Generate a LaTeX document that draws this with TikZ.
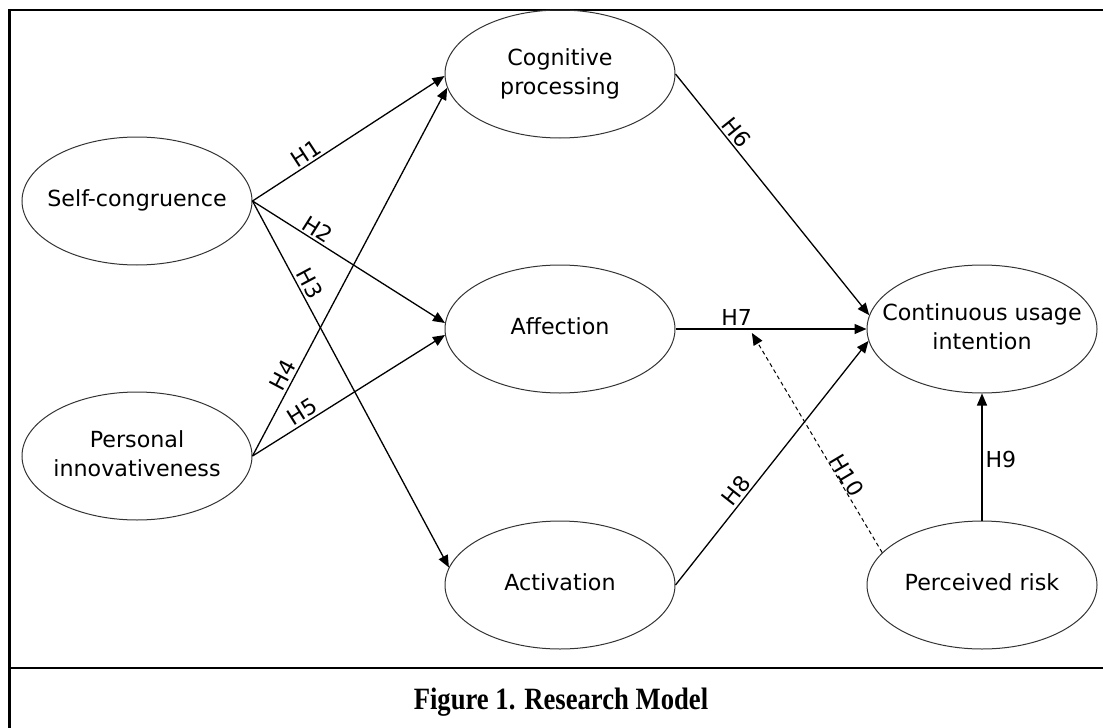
\documentclass[tikz,border=0pt]{standalone}
\usepackage{graphicx}
\usepackage{fontspec}
\setmainfont{DejaVu Sans}
\newfontfamily\capfont{Liberation Serif}
\usetikzlibrary{arrows.meta,shapes.geometric,calc}
\newcommand{\ctext}[1]{\makebox[0pt]{\begin{tabular}{@{}c@{}}#1\end{tabular}}}
\begin{document}
\begin{tikzpicture}[x=0.5pt,y=-0.5pt,
  construct/.style={ellipse, draw=black!80, line width=0.5pt, minimum width=115pt, minimum height=64pt, inner sep=0pt, font=\fontsize{11.1}{14.3}\selectfont},
  link/.style={draw, line width=0.65pt, -{Triangle[length=6pt,width=5pt]}},
  hyp/.style={font=\fontsize{11}{12}\selectfont, inner sep=1.2pt, sloped, above},
  boxline/.style={line width=1.4pt}
]
\useasboundingbox (0,0) rectangle (1103,728);
% frame
\draw[boxline] (9.5,728) -- (9.5,10) -- (1103,10);
\draw[boxline] (9.5,668) -- (1103,668);

% constructs
\node[construct] (sc) at (137,201) {\ctext{Self-congruence}};
\node[construct] (pi) at (137,456) {\ctext{Personal\\innovativeness}};
\node[construct] (cp) at (560,74) {\ctext{Cognitive\\processing}};
\node[construct] (af) at (560,329) {\ctext{Affection}};
\node[construct] (ac) at (560,585) {\ctext{Activation}};
\node[construct] (ci) at (982,329) {\ctext{Continuous usage\\intention}};
\node[construct] (pr) at (982,585) {\ctext{Perceived risk}};

% hypotheses
\draw[link] (sc.east) -- node[hyp, pos=0.31] {H1} (cp.181);
\draw[link] (sc.east) -- node[hyp, pos=0.31] {H2} (af.177);
\draw[link] (sc.east) -- node[hyp, pos=0.24] {H3} (ac.171);
\draw[link] (pi.east) -- node[hyp, pos=0.205] {H4} (cp.187);
\draw[link] (pi.east) -- node[hyp, pos=0.29] {H5} (af.183);
\draw[link] (cp.east) -- node[hyp, pos=0.27] {H6} (ci.173);
\draw[link] (af.east) -- node[hyp, pos=0.32] {H7} (ci.west);
\draw[link] (ac.east) -- node[hyp, pos=0.36] {H8} (ci.186);
\draw[link] (pr.north) -- node[pos=0.48, right, font=\fontsize{11}{12}\selectfont, inner sep=1.5pt] {H9} (ci.south);

\coordinate (h10) at ($(af.east)!0.40!(ci.west)+(0,4)$);
\draw[link, line width=0.5pt, dash pattern=on 2pt off 1.6pt] (pr.162) -- node[hyp, pos=0.33, inner sep=0pt] {H10} (h10);

% caption
\node (cap) at (561,702) {\scalebox{0.86}[1]{\capfont\bfseries\fontsize{15.5}{18}\selectfont Figure 1. Research Model}};
\end{tikzpicture}
\end{document}
